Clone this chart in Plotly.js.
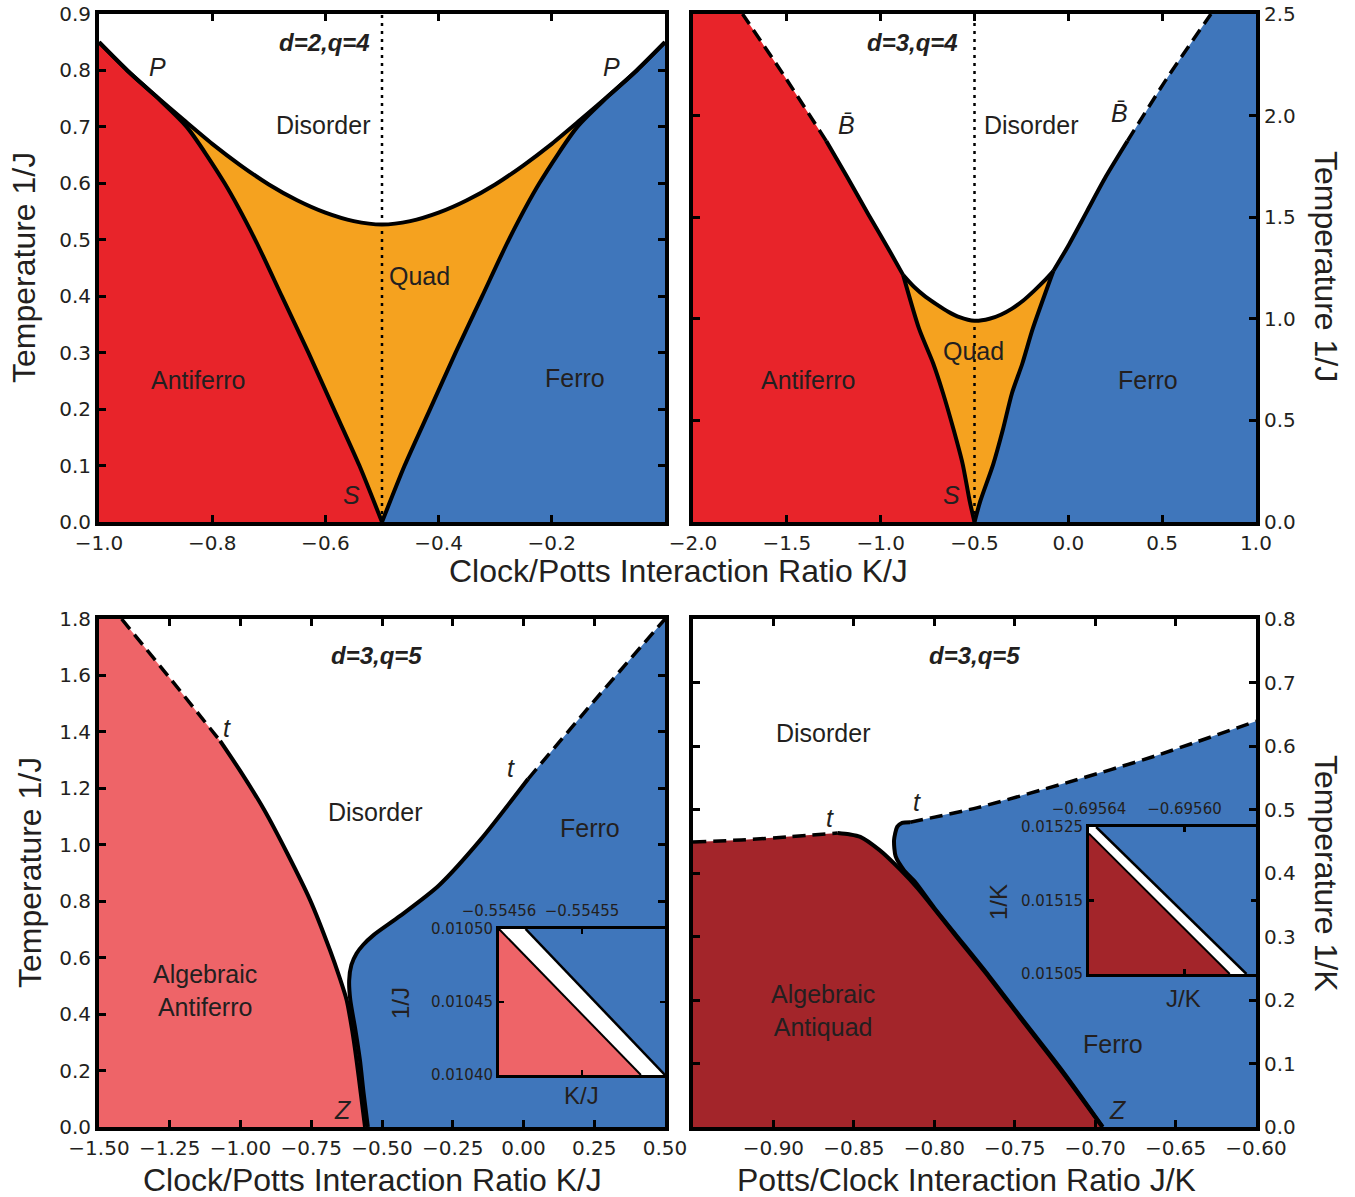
<!DOCTYPE html>
<html>
<head>
<meta charset="utf-8">
<script src="https://cdn.plot.ly/plotly-3.0.1.min.js"></script>
<style>html,body{margin:0;padding:0;background:#fff;}#chart{width:1355px;height:1197px;}</style>
</head>
<body>
<div id="chart"></div>
<script>
// ---------------- DATA ----------------
// Top-left: d=2, q=4  (x: K/J, y: 1/J)
const TL_DIS_X = [-1.0,-0.95,-0.9,-0.85,-0.8,-0.75,-0.7,-0.65,-0.6,-0.55,-0.5,-0.45,-0.4,-0.35,-0.3,-0.25,-0.2,-0.15,-0.1,-0.05,0.0];
const TL_DIS_Y = [0.85,0.80,0.755,0.712,0.670,0.632,0.598,0.570,0.548,0.533,0.527,0.533,0.548,0.570,0.598,0.632,0.670,0.712,0.755,0.80,0.85];
const TL_AF_X = [-0.5,-0.54,-0.585,-0.63,-0.677,-0.724,-0.778,-0.845,-0.895,-0.95,-1.0];
const TL_AF_Y = [0.0,0.1,0.2,0.3,0.4,0.5,0.6,0.7,0.75,0.80,0.85];
const TL_F_X  = [-0.5,-0.46,-0.415,-0.37,-0.323,-0.276,-0.222,-0.155,-0.105,-0.05,0.0];
const TL_F_Y  = [0.0,0.1,0.2,0.3,0.4,0.5,0.6,0.7,0.75,0.80,0.85];
const TL_LEFT_CORNER_X = [-1.0], TL_LEFT_CORNER_Y = [0.0];
const TL_RIGHT_CORNER_X = [0.0], TL_RIGHT_CORNER_Y = [0.0];
const TL_DOT_X = [-0.5,-0.5], TL_DOT_Y = [0.0,0.9];

// Top-right: d=3, q=4
const TR_QD_X = [-0.88,-0.82,-0.76,-0.7,-0.64,-0.58,-0.5,-0.42,-0.36,-0.3,-0.24,-0.18,-0.13,-0.08];
const TR_QD_Y = [1.215,1.155,1.108,1.07,1.035,1.008,0.99,1.0,1.02,1.05,1.09,1.14,1.185,1.235];
const TR_AFQ_X = [-0.5,-0.525,-0.563,-0.61,-0.668,-0.72,-0.795,-0.88];
const TR_AFQ_Y = [0.0,0.1,0.285,0.45,0.635,0.78,0.95,1.215];
const TR_AFD_X = [-0.88,-0.95,-1.067,-1.18,-1.29];
const TR_AFD_Y = [1.215,1.33,1.516,1.70,1.875];
const TR_AFD_DASH_X = [-1.29,-1.51,-1.736];
const TR_AFD_DASH_Y = [1.875,2.19,2.5];
const TR_FQ_X = [-0.5,-0.47,-0.40,-0.35,-0.30,-0.245,-0.19,-0.08];
const TR_FQ_Y = [0.0,0.1,0.285,0.45,0.635,0.78,0.95,1.235];
const TR_FD_X = [-0.08,0.0,0.1,0.2,0.315];
const TR_FD_Y = [1.235,1.36,1.53,1.70,1.875];
const TR_FD_DASH_X = [0.315,0.53,0.76];
const TR_FD_DASH_Y = [1.875,2.19,2.5];
const TR_LEFT_CORNERS_X = [-2.0,-2.0], TR_LEFT_CORNERS_Y = [2.5,0.0];
const TR_RIGHT_CORNERS_X = [1.0,1.0], TR_RIGHT_CORNERS_Y = [2.5,0.0];
const TR_DOT_X = [-0.5,-0.5], TR_DOT_Y = [0.0,2.5];

// Bottom-left: d=3, q=5
const BL_AF_DASH_X = [-1.42,-1.245,-1.072];
const BL_AF_DASH_Y = [1.8,1.585,1.368];
const BL_AF_X = [-1.072,-1.0,-0.917,-0.835,-0.754,-0.684,-0.65,-0.625,-0.605,-0.59,-0.575,-0.56];
const BL_AF_Y = [1.368,1.26,1.125,0.97,0.804,0.627,0.53,0.45,0.34,0.237,0.12,0.0];
const BL_F_X = [-0.55,-0.565,-0.578,-0.595,-0.612,-0.616,-0.608,-0.59,-0.567,-0.53,-0.436,-0.3,-0.15,0.016];
const BL_F_Y = [0.0,0.12,0.237,0.35,0.45,0.52,0.575,0.615,0.645,0.68,0.748,0.855,1.02,1.233];
const BL_F_DASH_X = [0.016,0.25,0.5];
const BL_F_DASH_Y = [1.233,1.51,1.8];
const BL_LEFT_CORNERS_X = [-1.5,-1.5], BL_LEFT_CORNERS_Y = [0.0,1.8];
const BL_RIGHT_CORNERS_X = [0.5,0.5], BL_RIGHT_CORNERS_Y = [0.0,1.8];

// Bottom-right: d=3, q=5 (x: J/K, y: 1/K)
const BR_AQ_DASH_X = [-0.95,-0.92,-0.89,-0.86];
const BR_AQ_DASH_Y = [0.449,0.452,0.457,0.463];
const BR_AQ_X = [-0.86,-0.853,-0.846,-0.834,-0.821,-0.81,-0.787,-0.766,-0.746,-0.72,-0.6955];
const BR_AQ_Y = [0.463,0.461,0.457,0.436,0.405,0.375,0.302,0.236,0.17,0.085,0.0];
const BR_F_X = [-0.815,-0.82,-0.823,-0.825,-0.824,-0.819,-0.812,-0.80,-0.787,-0.766,-0.746,-0.72,-0.6953];
const BR_F_Y = [0.480,0.479,0.473,0.452,0.426,0.405,0.386,0.345,0.304,0.238,0.172,0.087,0.0];
const BR_F_DASH_X = [-0.815,-0.773,-0.718,-0.663,-0.6];
const BR_F_DASH_Y = [0.480,0.503,0.542,0.584,0.639];
const BR_LEFT_CORNERS_X = [-0.95,-0.95], BR_LEFT_CORNERS_Y = [0.0,0.449];
const BR_RIGHT_CORNERS_X = [-0.6,-0.6], BR_RIGHT_CORNERS_Y = [0.639,0.0];

// Inset (bottom-left)
const BLI_RECT_X = [-0.55456,-0.55454,-0.55454,-0.55456];
const BLI_RECT_Y = [0.0104,0.0104,0.0105,0.0105];
const BLI_AF_X = [-0.55456,-0.5545429];
const BLI_AF_Y = [0.0105,0.0104];
const BLI_F_X = [-0.5545568,-0.55454];
const BLI_F_Y = [0.0105,0.0104];
const BLI_RED_CORNER_X = [-0.55456], BLI_RED_CORNER_Y = [0.0104];
const BLI_BLUE_CORNER_X = [-0.55454], BLI_BLUE_CORNER_Y = [0.0105];

// Inset (bottom-right)
const BRI_RECT_X = [-0.69564,-0.69557,-0.69557,-0.69564];
const BRI_RECT_Y = [0.01505,0.01505,0.01525,0.01525];
const BRI_AF_X = [-0.69564,-0.695581];
const BRI_AF_Y = [0.015241,0.01505];
const BRI_F_X = [-0.695637,-0.695574];
const BRI_F_Y = [0.01525,0.01505];
const BRI_RED_CORNER_X = [-0.69564], BRI_RED_CORNER_Y = [0.01505];
const BRI_BLUE_CORNERS_X = [-0.69557,-0.69557], BRI_BLUE_CORNERS_Y = [0.01505,0.01525];

// Ticks
const TL_XT = [-1.0,-0.8,-0.6,-0.4,-0.2,0.0];
const TL_XL = ['\u22121.0','\u22120.8','\u22120.6','\u22120.4','\u22120.2',''];
const TL_YT = [0.0,0.1,0.2,0.3,0.4,0.5,0.6,0.7,0.8,0.9];
const TR_XT = [-2.0,-1.5,-1.0,-0.5,0.0,0.5,1.0];
const TR_YT = [0.0,0.5,1.0,1.5,2.0,2.5];
const BL_XT = [-1.5,-1.25,-1.0,-0.75,-0.5,-0.25,0.0,0.25,0.5];
const BL_YT = [0.0,0.2,0.4,0.6,0.8,1.0,1.2,1.4,1.6,1.8];
const BR_XT = [-0.95,-0.9,-0.85,-0.8,-0.75,-0.7,-0.65,-0.6];
const BR_XL = ['','\u22120.90','\u22120.85','\u22120.80','\u22120.75','\u22120.70','\u22120.65','\u22120.60'];
const BR_YT = [0.0,0.1,0.2,0.3,0.4,0.5,0.6,0.7,0.8];
const BLI_XT = [-0.55456,-0.55455,-0.55454];
const BLI_XL = ['\u22120.55456','\u22120.55455',''];
const BLI_YT = [0.0104,0.01045,0.0105];
const BLI_YL = ['0.01040','0.01045','0.01050'];
const BRI_XT = [-0.69564,-0.6956];
const BRI_XL = ['\u22120.69564','\u22120.69560'];
const BRI_YT = [0.01505,0.01515,0.01525];
const BRI_YL = ['0.01505','0.01515','0.01525'];

// Colours
const RED = '#E8242A', ORANGE = '#F5A21F', BLUE = '#3F76BB', LIGHTRED = '#EE6468', DARKRED = '#A3252A', INK = '#231F20';

// ---------------- HELPERS ----------------
const fmt = (v, d) => (v < 0 ? '\u2212' : '') + Math.abs(v).toFixed(d);
const cat = (...a) => [].concat(...a);
const rev = a => a.slice().reverse();

function poly(xs, ys, color, xa, ya) {
  return {type:'scatter', mode:'lines', x:xs, y:ys, fill:'toself', fillcolor:color,
          line:{width:0, color:color}, xaxis:xa, yaxis:ya, hoverinfo:'skip', showlegend:false};
}
function ln(xs, ys, xa, ya, width, dash, straight) {
  return {type:'scatter', mode:'lines', x:xs, y:ys,
          line:{color:'black', width:width, dash:dash||'solid', shape: straight ? 'linear' : 'spline', smoothing:0.7},
          xaxis:xa, yaxis:ya, hoverinfo:'skip', showlegend:false};
}
const W = 1355, H = 1197;
const px = v => v / W, py = v => 1 - v / H;
const DASH = '13px,7px', DOT = '3px,5px';

const traces = [];
// ---- top-left ----
traces.push(poly(cat(TL_DIS_X, TL_RIGHT_CORNER_X, TL_LEFT_CORNER_X), cat(TL_DIS_Y, TL_RIGHT_CORNER_Y, TL_LEFT_CORNER_Y), ORANGE, 'x', 'y'));
traces.push(poly(cat(TL_AF_X, TL_LEFT_CORNER_X), cat(TL_AF_Y, TL_LEFT_CORNER_Y), RED, 'x', 'y'));
traces.push(poly(cat(TL_F_X, TL_RIGHT_CORNER_X), cat(TL_F_Y, TL_RIGHT_CORNER_Y), BLUE, 'x', 'y'));
traces.push(ln(TL_DIS_X, TL_DIS_Y, 'x', 'y', 4));
traces.push(ln(TL_AF_X, TL_AF_Y, 'x', 'y', 4));
traces.push(ln(TL_F_X, TL_F_Y, 'x', 'y', 4));
traces.push(ln(TL_DOT_X, TL_DOT_Y, 'x', 'y', 2.5, DOT, true));

// ---- top-right ----
traces.push(poly(cat(TR_AFQ_X, TR_QD_X, rev(TR_FQ_X)), cat(TR_AFQ_Y, TR_QD_Y, rev(TR_FQ_Y)), ORANGE, 'x2', 'y2'));
traces.push(poly(cat(TR_AFQ_X, TR_AFD_X, TR_AFD_DASH_X, TR_LEFT_CORNERS_X), cat(TR_AFQ_Y, TR_AFD_Y, TR_AFD_DASH_Y, TR_LEFT_CORNERS_Y), RED, 'x2', 'y2'));
traces.push(poly(cat(TR_FQ_X, TR_FD_X, TR_FD_DASH_X, TR_RIGHT_CORNERS_X), cat(TR_FQ_Y, TR_FD_Y, TR_FD_DASH_Y, TR_RIGHT_CORNERS_Y), BLUE, 'x2', 'y2'));
traces.push(ln(TR_QD_X, TR_QD_Y, 'x2', 'y2', 4));
traces.push(ln(TR_AFQ_X, TR_AFQ_Y, 'x2', 'y2', 4));
traces.push(ln(TR_FQ_X, TR_FQ_Y, 'x2', 'y2', 4));
traces.push(ln(TR_AFD_X, TR_AFD_Y, 'x2', 'y2', 4));
traces.push(ln(TR_FD_X, TR_FD_Y, 'x2', 'y2', 4));
traces.push(ln(TR_AFD_DASH_X, TR_AFD_DASH_Y, 'x2', 'y2', 3.5, DASH));
traces.push(ln(TR_FD_DASH_X, TR_FD_DASH_Y, 'x2', 'y2', 3.5, DASH));
traces.push(ln(TR_DOT_X, TR_DOT_Y, 'x2', 'y2', 2.5, DOT, true));

// ---- bottom-left ----
traces.push(poly(cat(BL_LEFT_CORNERS_X, BL_AF_DASH_X, BL_AF_X), cat(BL_LEFT_CORNERS_Y, BL_AF_DASH_Y, BL_AF_Y), LIGHTRED, 'x3', 'y3'));
traces.push(poly(cat(BL_RIGHT_CORNERS_X, rev(BL_F_DASH_X), rev(BL_F_X)), cat(BL_RIGHT_CORNERS_Y, rev(BL_F_DASH_Y), rev(BL_F_Y)), BLUE, 'x3', 'y3'));
traces.push(ln(BL_AF_X, BL_AF_Y, 'x3', 'y3', 4));
traces.push(ln(BL_F_X, BL_F_Y, 'x3', 'y3', 4));
traces.push(ln(BL_AF_DASH_X, BL_AF_DASH_Y, 'x3', 'y3', 3.5, DASH));
traces.push(ln(BL_F_DASH_X, BL_F_DASH_Y, 'x3', 'y3', 3.5, DASH));

// ---- bottom-right ----
traces.push(poly(cat(BR_LEFT_CORNERS_X, BR_AQ_DASH_X, BR_AQ_X), cat(BR_LEFT_CORNERS_Y, BR_AQ_DASH_Y, BR_AQ_Y), DARKRED, 'x4', 'y4'));
traces.push(poly(cat(BR_RIGHT_CORNERS_X, rev(BR_F_X), BR_F_DASH_X), cat(BR_RIGHT_CORNERS_Y, rev(BR_F_Y), BR_F_DASH_Y), BLUE, 'x4', 'y4'));
traces.push(ln(BR_AQ_X, BR_AQ_Y, 'x4', 'y4', 4));
traces.push(ln(BR_F_X, BR_F_Y, 'x4', 'y4', 4));
traces.push(ln(BR_AQ_DASH_X, BR_AQ_DASH_Y, 'x4', 'y4', 3.5, DASH));
traces.push(ln(BR_F_DASH_X, BR_F_DASH_Y, 'x4', 'y4', 3.5, DASH));

// ---- inset bottom-left ----
traces.push(poly(BLI_RECT_X, BLI_RECT_Y, '#ffffff', 'x5', 'y5'));
traces.push(poly(cat(BLI_AF_X, BLI_RED_CORNER_X), cat(BLI_AF_Y, BLI_RED_CORNER_Y), LIGHTRED, 'x5', 'y5'));
traces.push(poly(cat(BLI_F_X, BLI_BLUE_CORNER_X), cat(BLI_F_Y, BLI_BLUE_CORNER_Y), BLUE, 'x5', 'y5'));
traces.push(ln(BLI_AF_X, BLI_AF_Y, 'x5', 'y5', 2, null, true));
traces.push(ln(BLI_F_X, BLI_F_Y, 'x5', 'y5', 2.5, null, true));

// ---- inset bottom-right ----
traces.push(poly(BRI_RECT_X, BRI_RECT_Y, '#ffffff', 'x6', 'y6'));
traces.push(poly(cat(BRI_AF_X, BRI_RED_CORNER_X), cat(BRI_AF_Y, BRI_RED_CORNER_Y), DARKRED, 'x6', 'y6'));
traces.push(poly(cat(BRI_F_X, BRI_BLUE_CORNERS_X), cat(BRI_F_Y, BRI_BLUE_CORNERS_Y), BLUE, 'x6', 'y6'));
traces.push(ln(BRI_AF_X, BRI_AF_Y, 'x6', 'y6', 2, null, true));
traces.push(ln(BRI_F_X, BRI_F_Y, 'x6', 'y6', 2.5, null, true));

// ---------------- AXES ----------------
const TICKFONT = {family:'DejaVu Sans, sans-serif', size:20, color:INK};
function axis(domain, range, tv, tt, anchor, extra) {
  return Object.assign({domain:domain, range:range, anchor:anchor, tickmode:'array', tickvals:tv, ticktext:tt,
    ticks:'inside', ticklen:7, tickwidth:3, tickcolor:'black', showline:true, linewidth:4, linecolor:'black',
    mirror:'ticks', showgrid:false, zeroline:false, fixedrange:true, tickfont:TICKFONT}, extra || {});
}
const XL = [px(99), px(665)], XR = [px(693), px(1256)];
const YT = [py(522), py(14)], YB = [py(1127), py(619)];
const INSET_FONT = {family:'DejaVu Sans, sans-serif', size:15, color:INK};
const INSET_EXTRA = {tickfont:INSET_FONT, ticklen:5, tickwidth:2.5, linewidth:3};
const INSET_TOP = Object.assign({side:'top', ticklabelstandoff:4}, INSET_EXTRA);

const layout = {
  width: W, height: H, autosize:false,
  margin:{l:0, r:0, t:0, b:0, pad:0},
  paper_bgcolor:'#ffffff', plot_bgcolor:'#ffffff', showlegend:false,
  xaxis:  axis(XL, [-1.0, 0.0], TL_XT, TL_XL, 'y'),
  yaxis:  axis(YT, [0.0, 0.9], TL_YT, TL_YT.map(v => fmt(v,1)), 'x'),
  xaxis2: axis(XR, [-2.0, 1.0], TR_XT, TR_XT.map(v => fmt(v,1)), 'y2'),
  yaxis2: axis(YT, [0.0, 2.5], TR_YT, TR_YT.map(v => fmt(v,1)), 'x2', {side:'right'}),
  xaxis3: axis(XL, [-1.5, 0.5], BL_XT, BL_XT.map(v => fmt(v,2)), 'y3'),
  yaxis3: axis(YB, [0.0, 1.8], BL_YT, BL_YT.map(v => fmt(v,1)), 'x3'),
  xaxis4: axis(XR, [-0.95, -0.6], BR_XT, BR_XL, 'y4'),
  yaxis4: axis(YB, [0.0, 0.8], BR_YT, BR_YT.map(v => fmt(v,1)), 'x4', {side:'right'}),
  xaxis5: axis([px(499), px(665)], [-0.55456, -0.55454], BLI_XT, BLI_XL, 'y5', INSET_TOP),
  yaxis5: axis([py(1075), py(929)], [0.0104, 0.0105], BLI_YT, BLI_YL, 'x5', INSET_EXTRA),
  xaxis6: axis([px(1089), px(1256)], [-0.69564, -0.69557], BRI_XT, BRI_XL, 'y6', INSET_TOP),
  yaxis6: axis([py(974), py(827)], [0.01505, 0.01525], BRI_YT, BRI_YL, 'x6', INSET_EXTRA),
  annotations: []
};

// ---------------- TEXT ----------------
const LBL = {family:'Liberation Sans, Arial, sans-serif', size:25, color:INK};
const ITL = {family:'Liberation Sans, DejaVu Sans, sans-serif', size:25, color:INK};
const BI = {family:'Liberation Sans, Arial, sans-serif', size:24, color:INK};
const SM = {family:'Liberation Sans, Arial, sans-serif', size:24, color:INK};
const TTL = {family:'Liberation Sans, Arial, sans-serif', size:32, color:INK};
function note(text, x, y, xa, ya, font, extra) {
  layout.annotations.push(Object.assign({text:text, x:x, y:y, xref:xa, yref:ya, showarrow:false,
    xanchor:'center', yanchor:'middle', font:font}, extra || {}));
}
// top-left
note('<b><i>d=2,q=4</i></b>', -0.602, 0.849, 'x', 'y', BI);
note('<i>P</i>', -0.896, 0.806, 'x', 'y', ITL);
note('<i>P</i>', -0.094, 0.806, 'x', 'y', ITL);
note('Disorder', -0.604, 0.703, 'x', 'y', LBL);
note('Quad', -0.434, 0.436, 'x', 'y', LBL);
note('Antiferro', -0.825, 0.252, 'x', 'y', LBL);
note('Ferro', -0.159, 0.255, 'x', 'y', LBL);
note('<i>S</i>', -0.554, 0.048, 'x', 'y', ITL);
// top-right
note('<b><i>d=3,q=4</i></b>', -0.828, 2.362, 'x2', 'y2', BI);
note('<i>B\u0304</i>', -1.18, 1.954, 'x2', 'y2', ITL);
note('<i>B\u0304</i>', 0.27, 2.013, 'x2', 'y2', ITL);
note('Disorder', -0.199, 1.954, 'x2', 'y2', LBL);
note('Quad', -0.503, 0.842, 'x2', 'y2', LBL);
note('Antiferro', -1.387, 0.699, 'x2', 'y2', LBL);
note('Ferro', 0.424, 0.699, 'x2', 'y2', LBL);
note('<i>S</i>', -0.62, 0.133, 'x2', 'y2', ITL);
// bottom-left
note('<b><i>d=3,q=5</i></b>', -0.521, 1.669, 'x3', 'y3', BI);
note('<i>t</i>', -1.048, 1.414, 'x3', 'y3', ITL);
note('<i>t</i>', -0.044, 1.272, 'x3', 'y3', ITL);
note('Disorder', -0.525, 1.116, 'x3', 'y3', LBL);
note('Ferro', 0.235, 1.06, 'x3', 'y3', LBL);
note('Algebraic<br>Antiferro', -1.125, 0.485, 'x3', 'y3', LBL);
note('<i>Z</i>', -0.638, 0.06, 'x3', 'y3', ITL);
// bottom-right
note('<b><i>d=3,q=5</i></b>', -0.775, 0.742, 'x4', 'y4', BI);
note('Disorder', -0.869, 0.62, 'x4', 'y4', LBL);
note('<i>t</i>', -0.865, 0.487, 'x4', 'y4', ITL);
note('<i>t</i>', -0.811, 0.512, 'x4', 'y4', ITL);
note('Algebraic<br>Antiquad', -0.869, 0.184, 'x4', 'y4', LBL);
note('Ferro', -0.689, 0.131, 'x4', 'y4', LBL);
note('<i>Z</i>', -0.686, 0.027, 'x4', 'y4', ITL);
// inset titles
note('1/J', px(400), py(1003), 'paper', 'paper', SM, {textangle:-90});
note('K/J', px(581), py(1095), 'paper', 'paper', SM);
note('1/K', px(998), py(902), 'paper', 'paper', SM, {textangle:-90});
note('J/K', px(1183), py(998), 'paper', 'paper', SM);
// axis titles
note('Clock/Potts Interaction Ratio K/J', px(678), py(571), 'paper', 'paper', TTL, {height:34});
note('Temperature 1/J', px(24), py(268), 'paper', 'paper', TTL, {textangle:-90});
note('Temperature 1/J', px(1326), py(266), 'paper', 'paper', TTL, {textangle:90});
note('Clock/Potts Interaction Ratio K/J', px(372), py(1180), 'paper', 'paper', TTL, {height:34});
note('Potts/Clock Interaction Ratio J/K', px(966), py(1180), 'paper', 'paper', TTL, {height:34});
note('Temperature 1/J', px(30), py(873), 'paper', 'paper', TTL, {textangle:-90});
note('Temperature 1/K', px(1326), py(873), 'paper', 'paper', TTL, {textangle:90});

Plotly.newPlot('chart', traces, layout, {staticPlot:true, displayModeBar:false});
</script>
</body>
</html>
